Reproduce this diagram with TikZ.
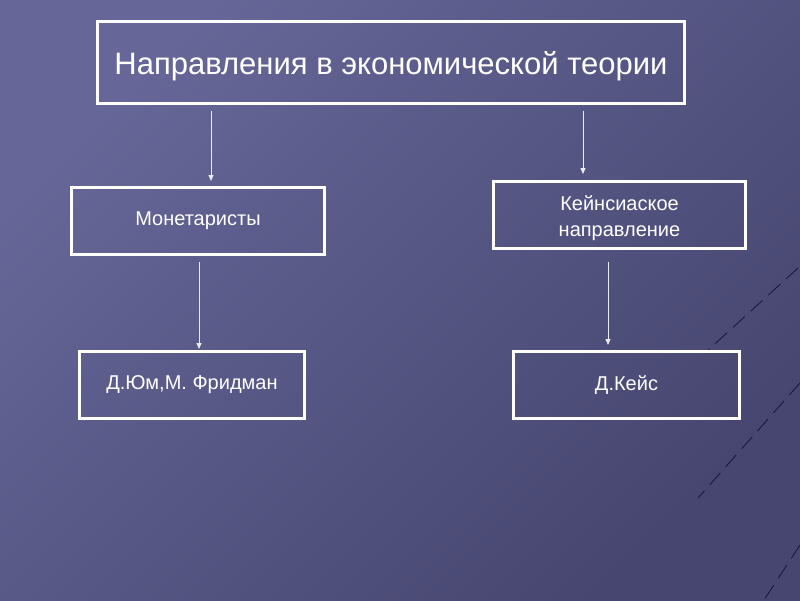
\documentclass[tikz,border=0pt]{standalone}
\usepackage{fontspec}
\setmainfont{Liberation Sans}
\usetikzlibrary{arrows.meta}
\definecolor{bgA}{RGB}{102,102,152}
\definecolor{bgB}{RGB}{70,70,112}
\newcommand{\lowr}[2]{\raisebox{-#1}[\height][\depth]{#2}}
\tikzset{
  box/.style={draw=white, line width=3pt, inner sep=0pt, font=\fontsize{20}{26}\selectfont, text=white, align=center},
  arr/.style={draw=white!85!gray, line width=0.8pt, -{Triangle[width=5pt,length=6pt]}},
  deco/.style={draw=black!85!blue, draw opacity=0.7, line width=0.8pt, dash pattern=on 16pt off 8pt},
}
\begin{document}
\begin{tikzpicture}[x=1pt,y=-1pt]
\shade[left color=bgA, right color=bgB, shading angle=45] (0,0) rectangle (800,600);
\useasboundingbox (0,0) rectangle (800,600);
% decorative background lines
\draw[deco] (798,268) -- (706,352);
\draw[deco] (800,383) -- (698,498);
\draw[deco] (800,545) -- (764,600);
% boxes
\node[box, minimum width=587pt, minimum height=82pt, font=\fontsize{31}{36}\selectfont] (top) at (391,62.5) {\lowr{4pt}{Направления в экономической теории}};
\node[box, minimum width=253pt, minimum height=67pt] (mon) at (198,221) {Монетаристы};
\node[box, minimum width=252pt, minimum height=67pt] (key) at (619.5,215) {\lowr{3pt}{\begin{tabular}{@{}c@{}}Кейнсиаское\\направление\end{tabular}}};
\node[box, minimum width=225pt, minimum height=67pt] (hum) at (192,385) {Д.Юм,М. Фридман};
\node[box, minimum width=226pt, minimum height=67pt] (keys) at (626.5,385) {Д.Кейс};
% connectors
\draw[arr] ([yshift=-6pt]top.south -| 211,0) -- ([yshift=5pt]mon.north -| 211,0);
\draw[arr] ([yshift=-6pt]top.south -| 583,0) -- ([yshift=6pt]key.north -| 583,0);
\draw[arr] ([yshift=-6pt]mon.south -| 199,0) -- ([yshift=1pt]hum.north -| 199,0);
\draw[arr] ([yshift=-12pt]key.south -| 608,0) -- ([yshift=5pt]keys.north -| 608,0);
\end{tikzpicture}
\end{document}
